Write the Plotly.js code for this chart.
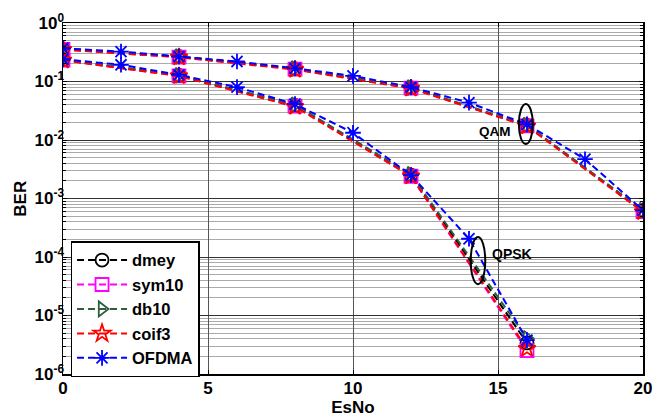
<!DOCTYPE html>
<html>
<head>
<meta charset="utf-8">
<script src="https://cdn.plot.ly/plotly-3.0.1.min.js"></script>
<style>html,body{margin:0;padding:0;background:#fff;}#chart{width:664px;height:420px;}</style>
</head>
<body>
<div id="chart"></div>
<script>
// EsNo points
const xWaveQPSK = [0, 4, 8, 12, 16];
const xWaveQAM = [0, 4, 8, 12, 16, 20];
const xOfdmaQPSK = [0, 2, 4, 6, 8, 10, 12, 14, 16];
const xOfdmaQAM = [0, 2, 4, 6, 8, 10, 12, 14, 16, 18, 20];

// BER values, QPSK branch
const dmeyQPSK  = [0.235, 0.127, 0.039, 0.0025, 3.4e-6];
const sym10QPSK = [0.232, 0.125, 0.038, 0.0024, 2.5e-6];
const db10QPSK  = [0.238, 0.128, 0.040, 0.0026, 4.1e-6];
const coif3QPSK = [0.230, 0.124, 0.037, 0.0024, 2.7e-6];
const ofdmaQPSK = [0.240, 0.193, 0.130, 0.080, 0.041, 0.0133, 0.0025, 2.05e-4, 3.8e-6];

// BER values, QAM branch
const dmeyQAM  = [0.360, 0.265, 0.165, 0.078, 0.0178, 6.2e-4];
const sym10QAM = [0.355, 0.262, 0.163, 0.077, 0.0175, 6.0e-4];
const db10QAM  = [0.365, 0.268, 0.167, 0.079, 0.0180, 6.3e-4];
const coif3QAM = [0.350, 0.260, 0.160, 0.076, 0.0172, 5.9e-4];
const ofdmaQAM = [0.370, 0.325, 0.267, 0.220, 0.168, 0.125, 0.080, 0.0435, 0.0185, 0.0047, 6.3e-4];

const names = ['dmey', 'sym10', 'db10', 'coif3', 'OFDMA'];
const colors = ['#000000', '#ff00ff', '#2e5e3e', '#ff0000', '#0000ff'];
const symbols = ['circle-open', 'square-open', 'triangle-right-open', 'star-open', 'asterisk-open'];

const yTickVals = [1e-6, 1e-5, 1e-4, 1e-3, 1e-2, 1e-1, 1];
const yTickText = ['10<sup>-6</sup>', '10<sup>-5</sup>', '10<sup>-4</sup>', '10<sup>-3</sup>', '10<sup>-2</sup>', '10<sup>-1</sup>', '10<sup>0</sup>'];
const xTickVals = [0, 5, 10, 15, 20];

const series = [
  [xWaveQPSK, dmeyQPSK, xWaveQAM, dmeyQAM],
  [xWaveQPSK, sym10QPSK, xWaveQAM, sym10QAM],
  [xWaveQPSK, db10QPSK, xWaveQAM, db10QAM],
  [xWaveQPSK, coif3QPSK, xWaveQAM, coif3QAM],
  [xOfdmaQPSK, ofdmaQPSK, xOfdmaQAM, ofdmaQAM]
];

const traces = [];
series.forEach((s, i) => {
  const common = {
    mode: 'lines+markers',
    line: {color: colors[i], width: 2, dash: '7px,4px'},
    marker: {symbol: symbols[i], size: 13, color: colors[i], line: {color: colors[i], width: 1.8}},
    legendgroup: names[i],
    name: names[i]
  };
  traces.push(Object.assign({x: s[0], y: s[1], showlegend: true}, common));
  traces.push(Object.assign({x: s[2], y: s[3], showlegend: false}, common));
});

// minor grid values 2..9 per decade
const minorVals = [];
for (let e = -6; e < 0; e++) {
  for (let m = 2; m <= 9; m++) minorVals.push(m * Math.pow(10, e));
}

const layout = {
  width: 664, height: 420,
  margin: {l: 63, r: 21, t: 23, b: 46},
  paper_bgcolor: '#ffffff', plot_bgcolor: '#ffffff',
  font: {family: '"Liberation Sans", Arial, sans-serif', size: 17, color: '#000', weight: 'bold'},
  showlegend: true,
  legend: {
    x: 0.013, y: 0.378, xanchor: 'left', yanchor: 'top',
    bgcolor: '#ffffff', bordercolor: '#000', borderwidth: 1.5,
    font: {size: 16.5, weight: 'bold'},
    tracegroupgap: 0, itemwidth: 50
  },
  xaxis: {
    range: [0, 20], tickvals: xTickVals, ticktext: xTickVals.map(String),
    ticks: 'inside', ticklen: 4, tickcolor: '#000', mirror: 'ticks',
    showline: true, linecolor: '#000', linewidth: 1.5,
    showgrid: true, gridcolor: '#555', gridwidth: 1, zeroline: false,
    tickfont: {size: 17, weight: 'bold'}, ticklabelstandoff: -2,
    title: {text: 'EsNo', font: {size: 17, weight: 'bold'}, standoff: 0}
  },
  yaxis: {
    type: 'log', range: [-6, 0], tickvals: yTickVals, ticktext: yTickText,
    ticks: 'inside', ticklen: 4, tickcolor: '#000', mirror: 'ticks',
    showline: true, linecolor: '#000', linewidth: 1.5,
    showgrid: true, gridcolor: '#333', gridwidth: 1, zeroline: false,
    tickfont: {size: 17, weight: 'bold'}, ticklabelstandoff: -6,
    minor: {tickvals: minorVals, showgrid: true, gridcolor: '#aaaaaa', gridwidth: 1, ticks: 'inside', ticklen: 3, tickcolor: '#000'}
  },
  shapes: [
    {type: 'circle', xref: 'paper', yref: 'paper', x0: 0.786, x1: 0.810, y0: 0.655, y1: 0.769, line: {color: '#000', width: 2}},
    {type: 'circle', xref: 'paper', yref: 'paper', x0: 0.703, x1: 0.728, y0: 0.256, y1: 0.390, line: {color: '#000', width: 2}}
  ],
  annotations: [
    {text: 'BER', xref: 'paper', yref: 'paper', x: -0.0738, y: 0.5, xanchor: 'center', yanchor: 'middle', textangle: -90, showarrow: false, font: {size: 17, weight: 'bold'}},
    {text: 'QAM', xref: 'paper', yref: 'paper', x: 0.744, y: 0.691, xanchor: 'center', yanchor: 'middle', showarrow: false, font: {size: 13.5, weight: 'bold'}},
    {text: 'QPSK', xref: 'paper', yref: 'paper', x: 0.774, y: 0.343, xanchor: 'center', yanchor: 'middle', showarrow: false, font: {size: 14, weight: 'bold'}}
  ]
};

Plotly.newPlot('chart', traces, layout, {displayModeBar: false, staticPlot: true});
</script>
</body>
</html>
